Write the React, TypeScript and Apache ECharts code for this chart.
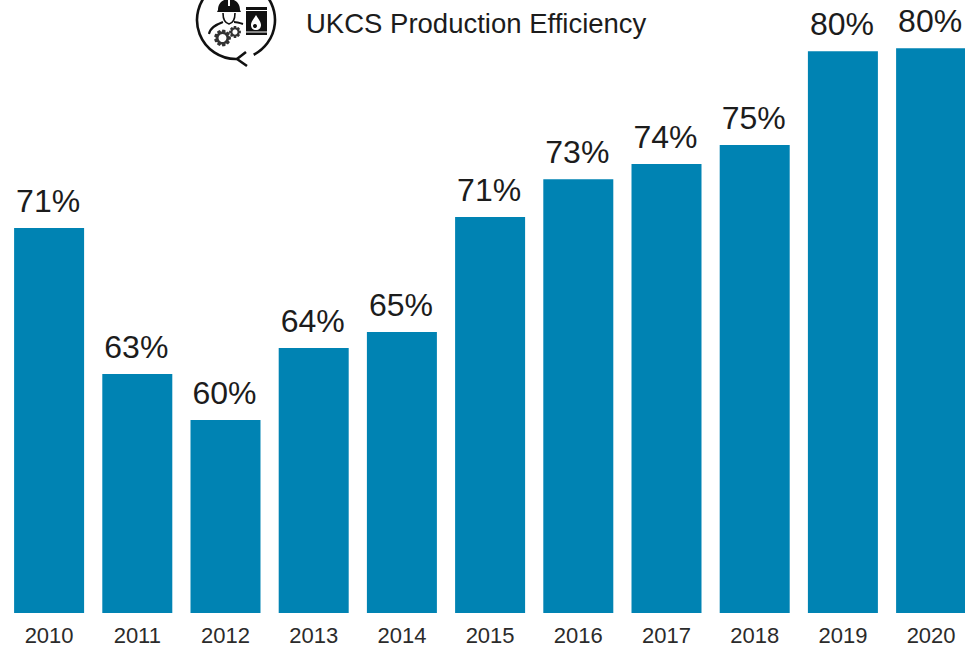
import React, { useEffect, useRef } from "react";
import * as echarts from "echarts";

const years = ["2010", "2011", "2012", "2013", "2014", "2015", "2016", "2017", "2018", "2019", "2020"];
const efficiency = [70.54, 62.56, 60.05, 63.98, 64.86, 71.14, 73.2, 74.04, 75.07, 80.2, 80.37];
const barColor = "#0083B3";
const title = "UKCS Production Efficiency";

// Builds a toothed wheel outline for the emblem's gears
function gearPath(cx: number, cy: number, outer: number, inner: number, teeth: number) {
  const pts: string[] = [];
  const step = (Math.PI * 2) / teeth;
  for (let i = 0; i < teeth; i++) {
    const a = i * step;
    [
      [inner, a - step * 0.5],
      [outer, a - step * 0.25],
      [outer, a + step * 0.25],
    ].forEach(([r, t]) => pts.push(`${(cx + r * Math.cos(t)).toFixed(2)} ${(cy + r * Math.sin(t)).toFixed(2)}`));
  }
  return `M${pts.join(" L")} Z`;
}

// Emblem parts: hard hat, face, shoulders, barrel, drop
const helmetD = "M218 10 C218 3 223 -1 229 -1 C235 -1 240 3 240 10 L241 12 L217 12 Z";
const faceD = "M223 13 C223 19 225 23 229 24 C233 23 235 19 235 13";
const shouldersD = "M209 34 C210 28 215 25 223 22 M234 22 C237 22 240 23 243 24";
const barrelD = "M246 7 L267 7 L267 35 L246 35 Z";
const dropD = "M256 15 C253 20 251 22 251 25 C251 28 253 30 256 30 C259 30 261 28 261 25 C261 22 259 20 256 15 Z";

echarts.graphic.registerShape("helmetShape", echarts.graphic.extendPath(helmetD, {}));
echarts.graphic.registerShape("faceShape", echarts.graphic.extendPath(faceD, {}));
echarts.graphic.registerShape("shouldersShape", echarts.graphic.extendPath(shouldersD, {}));
echarts.graphic.registerShape("barrelShape", echarts.graphic.extendPath(barrelD, {}));
echarts.graphic.registerShape("dropShape", echarts.graphic.extendPath(dropD, {}));
echarts.graphic.registerShape("bigGear", echarts.graphic.extendPath(gearPath(222.5, 38, 8.5, 6.2, 9), {}));
echarts.graphic.registerShape("smallGear", echarts.graphic.extendPath(gearPath(235, 32, 6, 4.2, 8), {}));

const ink = "#111";

export default function App() {
  const ref = useRef<HTMLDivElement>(null);
  useEffect(() => {
    document.body.style.margin = "0";
    const chart = echarts.init(ref.current!, null, { renderer: "svg" });
    chart.setOption({
      animation: false,
      backgroundColor: "#fff",
      grid: { left: 5, width: 970.2, top: 0, bottom: 34 },
      xAxis: {
        type: "category",
        data: years,
        axisLine: { show: false },
        axisTick: { show: false },
        axisLabel: { color: "#2b2b2b", fontFamily: "Liberation Sans", fontSize: 22, margin: 11, interval: 0 },
      },
      yAxis: { type: "value", min: 49.5, max: 83, show: false, splitLine: { show: false } },
      series: [
        {
          type: "bar",
          data: efficiency,
          barWidth: 70,
          itemStyle: { color: barColor },
          label: {
            show: true,
            position: "top",
            distance: 11,
            offset: [-1, 0],
            color: "#1c1c1c",
            fontFamily: "Liberation Sans",
            fontSize: 32,
            formatter: (p: any) => `${Number(p.value).toFixed(0)}%`,
          },
        },
      ],
      graphic: [
        { type: "text", left: 306, top: 9, style: { text: title, fontFamily: "Liberation Sans", fontSize: 27.5, fill: "#1c1c1c" } },
        { type: "arc", shape: { cx: 236, cy: 20, r: 39, startAngle: -0.9, endAngle: 1.1, clockwise: true }, style: { stroke: ink, lineWidth: 2.6, fill: "none" } },
        { type: "arc", shape: { cx: 236, cy: 20, r: 39, startAngle: 1.55, endAngle: 4.0, clockwise: true }, style: { stroke: ink, lineWidth: 2.6, fill: "none" } },
        { type: "polyline", shape: { points: [[246, 52], [237, 59], [247, 66]] }, style: { stroke: ink, lineWidth: 2.6, fill: "none" } },
        { type: "helmetShape", style: { fill: ink } },
        { type: "rect", shape: { x: 228, y: 0, width: 2, height: 6 }, style: { fill: "#fff" } },
        { type: "faceShape", style: { stroke: ink, lineWidth: 1.6, fill: "none" } },
        { type: "shouldersShape", style: { stroke: ink, lineWidth: 2, fill: "none" } },
        { type: "barrelShape", style: { fill: ink } },
        { type: "rect", shape: { x: 246, y: 10, width: 21, height: 1 }, style: { fill: "#fff" } },
        { type: "rect", shape: { x: 246, y: 31.5, width: 21, height: 1 }, style: { fill: "#fff" } },
        { type: "dropShape", style: { fill: "#fff" } },
        { type: "circle", shape: { cx: 255, cy: 26, r: 2 }, style: { fill: ink } },
        { type: "bigGear", style: { fill: "#333" } },
        { type: "circle", shape: { cx: 222.5, cy: 38, r: 4 }, style: { fill: "#fff" } },
        { type: "smallGear", style: { fill: "#333" } },
        { type: "circle", shape: { cx: 235, cy: 32, r: 2.6 }, style: { fill: "#fff" } },
      ],
    });
    return () => chart.dispose();
  }, []);
  // The last bar runs to the page edge, so the plot is wider than the visible frame
  return (
    <div style={{ width: 965, height: 647, overflow: "hidden" }}>
      <div ref={ref} style={{ width: 980, height: 647 }} />
    </div>
  );
}
